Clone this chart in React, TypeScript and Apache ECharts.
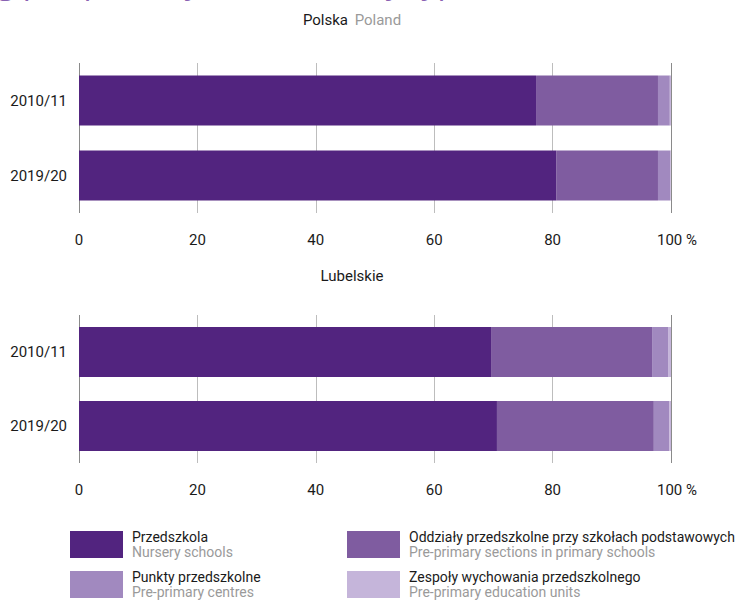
import React, { useEffect, useRef } from "react";
import * as echarts from "echarts";

const categories = ["2010/11", "2019/20"];

const seriesNames = [
  "Przedszkola",
  "Oddziały przedszkolne przy szkołach podstawowych",
  "Punkty przedszkolne",
  "Zespoły wychowania przedszkolnego",
];
const seriesNamesEn = [
  "Nursery schools",
  "Pre-primary sections in primary schools",
  "Pre-primary centres",
  "Pre-primary education units",
];

const polskaPrzedszkola = [77.2, 80.6];
const polskaOddzialy = [20.6, 17.2];
const polskaPunkty = [2.0, 2.1];
const polskaZespoly = [0.2, 0.1];

const lubelskiePrzedszkola = [69.6, 70.6];
const lubelskieOddzialy = [27.2, 26.5];
const lubelskiePunkty = [2.7, 2.6];
const lubelskieZespoly = [0.5, 0.3];

const colors = ["#52247f", "#7f5ca0", "#a189bf", "#c5b5da"];
const FONT = "Roboto, 'Liberation Sans', sans-serif";

export default function App() {
  const ref = useRef<HTMLDivElement>(null);

  useEffect(() => {
    if (!ref.current) return;
    const chart = echarts.init(ref.current, null, { renderer: "svg" });

    const grids = [
      { left: 79, right: 75, top: 63, height: 150 },
      { left: 79, right: 75, top: 315, height: 148 },
    ];

    const xAxisCommon = (gi: number) => ({
      type: "value",
      gridIndex: gi,
      min: 0,
      max: 100,
      interval: 20,
      axisLine: { show: false },
      axisTick: { show: false },
      splitLine: {
        show: true,
        lineStyle: {
          color: ["#8a8a8a", "#bdbdbd", "#bdbdbd", "#bdbdbd", "#bdbdbd", "#8a8a8a"],
          width: 1,
        },
      },
      axisLabel: {
        margin: 19,
        fontFamily: FONT,
        fontSize: 15,
        color: "#1a1a1a",
        formatter: (v: number) => (v === 100 ? "{s|}100 %" : String(v)),
        rich: { s: { width: 12 } },
      },
    });

    const yAxisCommon = (gi: number) => ({
      type: "category",
      gridIndex: gi,
      data: categories,
      inverse: true,
      axisLine: { show: false },
      axisTick: { show: false },
      splitLine: { show: false },
      axisLabel: {
        margin: 12,
        fontFamily: FONT,
        fontSize: 15,
        color: "#1a1a1a",
      },
    });

    const groups = [
      [polskaPrzedszkola, polskaOddzialy, polskaPunkty, polskaZespoly],
      [lubelskiePrzedszkola, lubelskieOddzialy, lubelskiePunkty, lubelskieZespoly],
    ];

    const series: any[] = [];
    groups.forEach((g, gi) => {
      g.forEach((arr, si) => {
        series.push({
          type: "bar",
          name: seriesNames[si],
          xAxisIndex: gi,
          yAxisIndex: gi,
          stack: "s" + gi,
          barWidth: 50,
          data: arr,
          itemStyle: { color: colors[si] },
          emphasis: { disabled: true },
        });
      });
    });

    const legendPos = [
      { x: 70, y: 531 },
      { x: 347, y: 531 },
      { x: 70, y: 571 },
      { x: 347, y: 571 },
    ];
    const legendGraphics: any[] = [];
    [0, 1, 2, 3].forEach((si, i) => {
      const p = legendPos[i];
      legendGraphics.push({
        type: "rect",
        shape: { x: p.x, y: p.y, width: 53, height: 27 },
        style: { fill: colors[si] },
      });
      legendGraphics.push({
        type: "text",
        x: p.x + 62,
        y: p.y + 6,
        style: {
          text: seriesNames[si],
          fontFamily: FONT,
          fontSize: 14,
          fill: "#1a1a1a",
          verticalAlign: "middle",
        },
      });
      legendGraphics.push({
        type: "text",
        x: p.x + 62,
        y: p.y + 21,
        style: {
          text: seriesNamesEn[si],
          fontFamily: FONT,
          fontSize: 14,
          fill: "#9a9a9a",
          verticalAlign: "middle",
        },
      });
    });

    chart.setOption({
      animation: false,
      grid: grids,
      xAxis: [xAxisCommon(0), xAxisCommon(1)],
      yAxis: [yAxisCommon(0), yAxisCommon(1)],
      series,
      graphic: [
        {
          type: "text",
          x: -3,
          y: -20,
          style: {
            text: "g pre-primary education by type",
            fontFamily: "'Open Sans', sans-serif",
            fontSize: 32,
            fill: "#8a62b3",
            verticalAlign: "middle",
          },
        },
        {
          type: "text",
          x: 352,
          y: 20,
          style: {
            text: "{a|Polska}  {b|Poland}",
            align: "center",
            verticalAlign: "middle",
            rich: {
              a: { fontFamily: FONT, fontSize: 15, fill: "#1a1a1a" },
              b: { fontFamily: FONT, fontSize: 15, fill: "#9a9a9a" },
            },
          },
        },
        {
          type: "text",
          x: 352,
          y: 276,
          style: {
            text: "Lubelskie",
            align: "center",
            verticalAlign: "middle",
            fontFamily: FONT,
            fontSize: 15,
            fill: "#1a1a1a",
          },
        },
        ...legendGraphics,
      ],
    });

    return () => chart.dispose();
  }, []);

  return (
    <div
      ref={ref}
      style={{ position: "fixed", left: 0, top: 0, width: 746, height: 603, background: "#fff" }}
    />
  );
}
